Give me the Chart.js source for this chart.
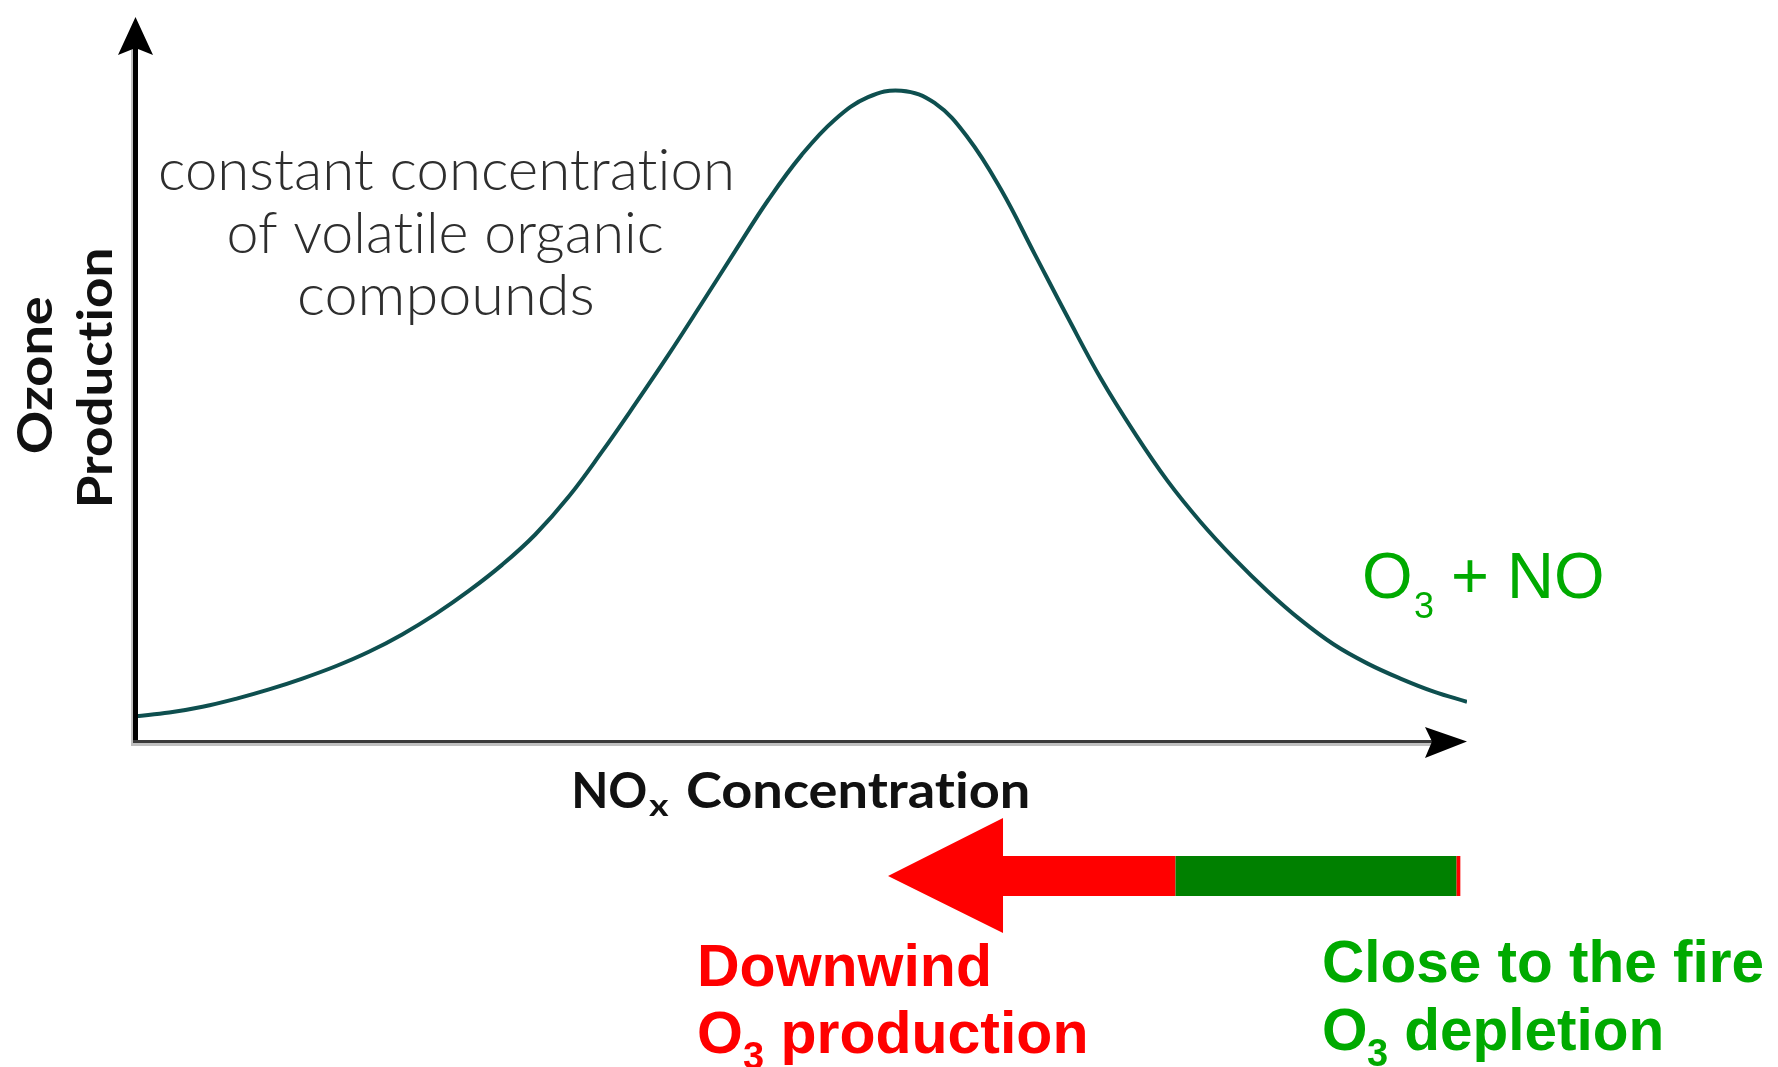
<!DOCTYPE html>
<html>
<head>
<meta charset="utf-8">
<title>Ozone production vs NOx concentration</title>
<script src="https://cdn.jsdelivr.net/npm/chart.js@4.4.1/dist/chart.umd.min.js"></script>
<style>
  html, body { margin: 0; padding: 0; background: #fff; }
  canvas { display: block; }
</style>
</head>
<body>
<canvas id="ozone-chart" width="1778" height="1067"></canvas>
<script>
// NOx concentration (relative units, 0-100) and ozone production along one VOC isopleth
const noxConcentration = [0, 2.5, 5, 7.5, 10, 12.5, 15, 17.5, 20, 22.5, 25, 27.5, 30, 32.5, 35, 37.5, 40, 42.5, 45, 47.5, 50, 52.5, 55, 57.5, 60, 62.5, 65, 67.5, 70, 72.5, 75, 77.5, 80, 82.5, 85, 87.5, 90, 92.5, 95, 97.5, 100];
const ozoneProduction = [3.7, 4.2, 5.0, 6.1, 7.4, 8.9, 10.6, 12.6, 15.0, 17.8, 21.0, 24.6, 28.8, 34.0, 40.2, 46.8, 53.6, 60.7, 67.9, 75.0, 81.2, 86.1, 89.2, 90.1, 88.4, 83.6, 76.4, 67.6, 58.8, 50.3, 42.9, 36.2, 30.5, 25.5, 21.0, 17.0, 13.6, 11.0, 8.9, 7.1, 5.7];

// where the plume arrow sits along the NOx axis
const downwindTip = 56.5;
const fireSplit = 78.1;
const fireEnd = 99.5;

const curveColor = "#0e4f4f";
const labelGreen = "#00aa00";
const labelRed = "#ff0000";

// draw text so its ink spans exactly `width` pixels starting at `left`
function fitText(ctx, text, left, baseline, font, width) {
  ctx.font = font;
  const m = ctx.measureText(text);
  const ink = m.actualBoundingBoxLeft + m.actualBoundingBoxRight;
  const sx = width ? width / ink : 1;
  ctx.save();
  ctx.translate(left + m.actualBoundingBoxLeft * sx, baseline);
  ctx.scale(sx, 1);
  ctx.fillText(text, 0, 0);
  ctx.restore();
}

const decorations = {
  id: "decorations",
  afterDatasetsDraw(chart) {
    const { ctx, chartArea } = chart;
    const { left, right, top, bottom } = chartArea;
    const xs = chart.scales.x;
    ctx.save();
    ctx.textAlign = "left";
    ctx.textBaseline = "alphabetic";
    // a hair of spacing keeps Lato from joining "ti"
    ctx.letterSpacing = "0.01px";

    // axes
    ctx.fillStyle = "#c0c0c0";
    ctx.fillRect(left - 5, top + 30, 2, bottom - top - 27);
    ctx.fillRect(left - 5, bottom, right - left - 30, 3);
    ctx.fillStyle = "#000";
    ctx.fillRect(left - 3, top + 25, 5, bottom - top - 25);
    ctx.fillStyle = "#3a3a3a";
    ctx.fillRect(left - 3, bottom - 3, right - left - 30, 3);

    ctx.fillStyle = "#000";
    ctx.beginPath();
    ctx.moveTo(left - 0.5, top - 2);
    ctx.lineTo(left + 17, top + 36);
    ctx.lineTo(left - 0.5, top + 29);
    ctx.lineTo(left - 18, top + 36);
    ctx.closePath();
    ctx.fill();
    ctx.beginPath();
    ctx.moveTo(right, bottom - 1.5);
    ctx.lineTo(right - 42, bottom - 16);
    ctx.lineTo(right - 35, bottom - 1.5);
    ctx.lineTo(right - 42, bottom + 15);
    ctx.closePath();
    ctx.fill();

    // axis titles
    ctx.fillStyle = "#111";
    ctx.save();
    ctx.rotate(-Math.PI / 2);
    // rotated frame: x' = -y, y' = x
    fitText(ctx, "Ozone", -453, 52, "bold 48px Lato", 156);
    fitText(ctx, "Production", -505, 112, "bold 48px Lato", 255);
    ctx.restore();

    fitText(ctx, "NO", 575, 808, "bold 50px Lato", 71);
    fitText(ctx, "x", 649, 816, "bold 30px Lato", 20);
    fitText(ctx, "Concentration", 687, 808, "bold 50px Lato", 341);

    // isopleth note
    ctx.fillStyle = "#2e2e2e";
    const note = [
      ["constant concentration", 190, 570],
      ["of volatile organic", 253, 433],
      ["compounds", 315, 292],
    ];
    note.forEach(([text, baseline, width]) => {
      fitText(ctx, text, 446 - width / 2, baseline, "300 58px Lato", width);
    });
    ctx.letterSpacing = "0px";

    // O3 + NO titration label
    ctx.fillStyle = labelGreen;
    ctx.font = "65px 'Liberation Sans'";
    ctx.fillText("O", 1362, 598);
    ctx.font = "36px 'Liberation Sans'";
    ctx.fillText("3", 1414, 618);
    ctx.font = "65px 'Liberation Sans'";
    ctx.fillText(" + NO", 1433, 598);

    // plume arrow: red head/shaft downwind, green near the fire
    const xTip = xs.getPixelForValue(downwindTip);
    const xSplit = xs.getPixelForValue(fireSplit);
    const xEnd = xs.getPixelForValue(fireEnd);
    ctx.fillStyle = labelRed;
    ctx.beginPath();
    ctx.moveTo(xTip, 876);
    ctx.lineTo(xTip + 115, 818);
    ctx.lineTo(xTip + 115, 856);
    ctx.lineTo(xSplit, 856);
    ctx.lineTo(xSplit, 896);
    ctx.lineTo(xTip + 115, 896);
    ctx.lineTo(xTip + 115, 933);
    ctx.closePath();
    ctx.fill();
    ctx.fillRect(xEnd - 4, 856, 4, 40);
    ctx.fillStyle = "#008000";
    ctx.fillRect(xSplit, 856, xEnd - 4 - xSplit, 40);

    // captions under the arrow
    const bold = (px) => `bold ${px}px 'Liberation Sans'`;
    ctx.fillStyle = labelRed;
    ctx.font = bold(59);
    ctx.fillText("Downwind", 697, 986);
    ctx.fillText("O", 697, 1053);
    ctx.font = bold(38);
    ctx.fillText("3", 743, 1069);
    ctx.font = bold(59);
    ctx.fillText(" production", 764, 1053);

    ctx.fillStyle = labelGreen;
    ctx.font = bold(58.5);
    ctx.fillText("Close to the fire", 1322, 982);
    ctx.fillText("O", 1322, 1050);
    ctx.font = bold(38);
    ctx.fillText("3", 1367, 1066);
    ctx.font = bold(58.5);
    ctx.fillText(" depletion", 1388, 1050);

    ctx.restore();
  },
};

new Chart(document.getElementById("ozone-chart"), {
  type: "line",
  data: {
    datasets: [
      {
        label: "Ozone production",
        data: noxConcentration.map((x, i) => ({ x, y: ozoneProduction[i] })),
        borderColor: curveColor,
        borderWidth: 4,
        pointRadius: 0,
        tension: 0.4,
        fill: false,
      },
    ],
  },
  options: {
    responsive: false,
    devicePixelRatio: 1,
    animation: false,
    events: [],
    layout: { padding: { left: 136, right: 311, top: 19, bottom: 324 } },
    plugins: { legend: { display: false }, tooltip: { enabled: false } },
    scales: {
      x: { type: "linear", min: 0, max: 100, display: false },
      y: { min: 0, max: 100, display: false },
    },
  },
  plugins: [decorations],
});
</script>
</body>
</html>
